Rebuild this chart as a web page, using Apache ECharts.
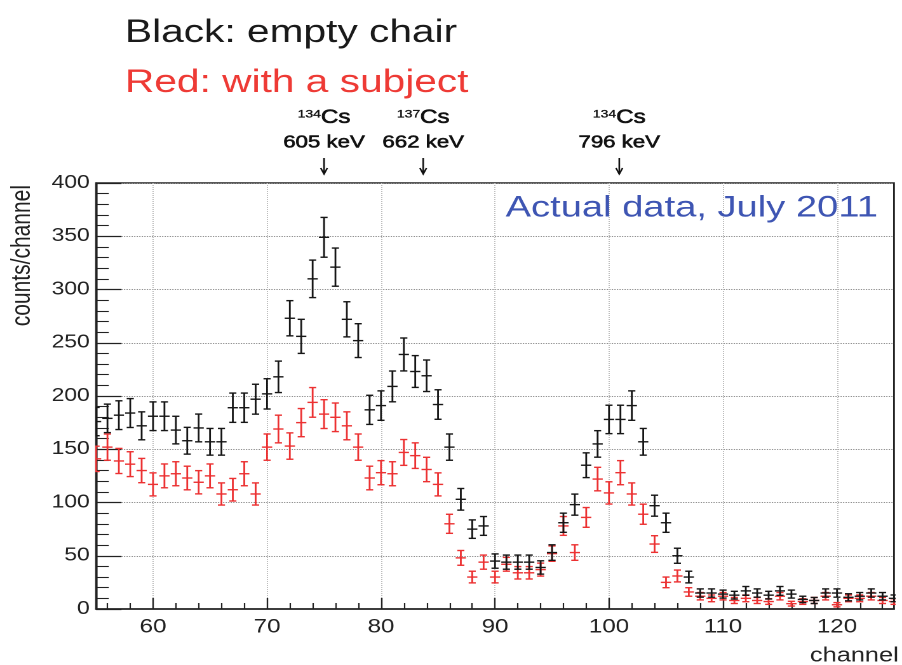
<!DOCTYPE html>
<html>
<head>
<meta charset="utf-8">
<script src="https://cdn.jsdelivr.net/npm/echarts@6/dist/echarts.min.js"></script>
<style>
  html, body { margin: 0; padding: 0; background: #ffffff; overflow: hidden; }
  #wrap { width: 902px; height: 665px; overflow: hidden; }
  /* the spectrum is laid out narrow and stretched horizontally */
  #chart { width: 710px; height: 665px; transform: scaleX(1.2704); transform-origin: 0 0; }
</style>
</head>
<body>
<div id="wrap"><div id="chart"></div></div>
<script>
// Detector channels shown on the spectrum
const channels = [
  55, 56, 57, 58, 59, 60, 61, 62, 63, 64, 65, 66, 67, 68, 69, 70, 71, 72, 73, 74,
  75, 76, 77, 78, 79, 80, 81, 82, 83, 84, 85, 86, 87, 88, 89, 90, 91, 92, 93, 94,
  95, 96, 97, 98, 99, 100, 101, 102, 103, 104, 105, 106, 107, 108, 109, 110, 111, 112, 113, 114,
  115, 116, 117, 118, 119, 120, 121, 122, 123, 124, 125
];

// Counts per channel, empty chair (black)
const emptyChair = [
  176, 179, 182, 184, 172, 181, 181, 168, 158, 170, 157, 157, 189, 189, 197, 202, 218, 273, 256, 310,
  349, 321, 272, 252, 187, 191, 209, 239, 223, 219, 192, 152, 103, 75, 78, 45, 44, 44, 44, 39,
  53, 81, 98, 135, 155, 178, 178, 191, 157, 97, 81, 50, 30, 15, 15, 14, 13, 17, 15, 13,
  17, 14, 9, 8, 15, 15, 11, 12, 15, 12, 10
];

// Counts per channel, with a subject seated (red)
const withSubject = [
  141, 152, 139, 136, 130, 117, 125, 127, 123, 119, 125, 108, 112, 127, 108, 152, 169, 153, 175, 194,
  183, 180, 172, 152, 123, 128, 127, 147, 144, 131, 117, 80, 48, 30, 44, 30, 42, 34, 34, 37,
  52, 78, 53, 86, 122, 109, 128, 108, 89, 61, 25, 31, 16, 12, 10, 12, 8, 10, 8, 7,
  12, 5, 7, 8, 12, 4, 10, 10, 12, 8, 7
];

// Axis ticks
const xMajorTicks = [60, 70, 80, 90, 100, 110, 120];
const xMinorTicks = [56, 58, 62, 64, 66, 68, 72, 74, 76, 78, 82, 84, 86, 88, 92, 94, 96, 98,
  102, 104, 106, 108, 112, 114, 116, 118, 122, 124];
const yTicks = [0, 50, 100, 150, 200, 250, 300, 350, 400];

// Gamma lines marked above the plot
const peakIsotopes = ['134', '137', '134'];
const peakEnergies = ['605 keV', '662 keV', '796 keV'];
const peakChannels = [75.0, 83.7, 100.9];

const FONT = '"Liberation Sans", Arial, Helvetica, sans-serif';
const BLACK = '#161616';
const RED = '#ec3132';

// Poisson error bars on each channel
function withErrors(values) {
  return channels.map((ch, i) => [ch, values[i], Math.sqrt(values[i])]);
}

function errorBars(color) {
  return function (params, api) {
    const x = api.value(0), y = api.value(1), e = api.value(2);
    const top = api.coord([x, y + e]);
    const bot = api.coord([x, y - e]);
    const left = api.coord([x - 0.45, y]);
    const right = api.coord([x + 0.45, y]);
    const cap = 2.8;
    const st = { stroke: color, lineWidth: 1.4 };
    return {
      type: 'group',
      children: [
        { type: 'line', shape: { x1: top[0], y1: top[1], x2: bot[0], y2: bot[1] }, style: st },
        { type: 'line', shape: { x1: top[0] - cap, y1: top[1], x2: top[0] + cap, y2: top[1] }, style: st },
        { type: 'line', shape: { x1: bot[0] - cap, y1: bot[1], x2: bot[0] + cap, y2: bot[1] }, style: st },
        { type: 'line', shape: { x1: left[0], y1: left[1], x2: right[0], y2: right[1] }, style: st }
      ]
    };
  };
}

const chart = echarts.init(document.getElementById('chart'), null, { renderer: 'canvas', devicePixelRatio: 2 });

chart.setOption({
  backgroundColor: '#ffffff',
  animation: false,
  grid: {
    left: 75.6, right: 6.3, top: 183, bottom: 56,
    show: true, borderColor: '#222', borderWidth: 1.4, backgroundColor: 'transparent'
  },
  xAxis: [
    {
      type: 'value', min: 55, max: 125, position: 'bottom',
      axisLine: { show: true, onZero: false, lineStyle: { color: '#222', width: 1.6 } },
      axisTick: { show: true, inside: true, length: 11, customValues: xMajorTicks, lineStyle: { color: '#222', width: 1.2 } },
      axisLabel: { show: true, customValues: xMajorTicks, margin: 9, color: '#222', fontSize: 19, fontFamily: FONT },
      splitLine: { show: true, customValues: xMajorTicks, lineStyle: { color: '#bdbdbd', type: 'dotted', width: 1 } },
      minorTick: { show: false }
    },
    {
      type: 'value', min: 55, max: 125, position: 'bottom', offset: 0,
      axisLine: { show: false },
      axisTick: { show: true, inside: true, length: 6, customValues: xMinorTicks, lineStyle: { color: '#222', width: 1.1 } },
      axisLabel: { show: false },
      splitLine: { show: false }
    }
  ],
  yAxis: {
    type: 'value', min: 0, max: 400, interval: 50,
    axisLine: { show: true, onZero: false, lineStyle: { color: '#222', width: 1.6 } },
    axisTick: { show: true, inside: true, length: 20, lineStyle: { color: '#222', width: 1.2 } },
    minorTick: { show: true, splitNumber: 5, length: 10, lineStyle: { color: '#222', width: 1.1 } },
    axisLabel: {
      margin: 5, color: '#222', fontSize: 18, fontFamily: FONT,
      formatter: v => (yTicks.indexOf(v) >= 0 ? String(v) : '')
    },
    splitLine: { show: true, lineStyle: { color: '#8f8f8f', type: 'dotted', width: 1 } }
  },
  series: [
    {
      name: 'Red: with a subject', type: 'custom', clip: true,
      xAxisIndex: 0, yAxisIndex: 0,
      renderItem: errorBars(RED),
      encode: { x: 0, y: 1 },
      data: withErrors(withSubject),
      z: 3
    },
    {
      name: 'Black: empty chair', type: 'custom', clip: true,
      xAxisIndex: 0, yAxisIndex: 0,
      renderItem: errorBars(BLACK),
      encode: { x: 0, y: 1 },
      data: withErrors(emptyChair),
      z: 4
    }
  ]
});

// Text and peak annotations placed through the axis scale
const graphics = [
  { type: 'text', x: 98.4, y: 33, style: { text: 'Black: empty chair', fill: '#1a1a1a', font: '32px ' + FONT, verticalAlign: 'middle', align: 'left' } },
  { type: 'text', x: 98.4, y: 83, style: { text: 'Red: with a subject', fill: '#ee3a35', font: '32px ' + FONT, verticalAlign: 'middle', align: 'left' } },
  { type: 'text', x: 691, y: 208, z: 10, style: { text: 'Actual data, July 2011', fill: '#3e55b3', font: '30px ' + FONT, verticalAlign: 'middle', align: 'right' } },
  { type: 'text', x: 707.5, y: 656, style: { text: 'channel', fill: '#222', font: '20px ' + FONT, verticalAlign: 'middle', align: 'right' } },
  { type: 'text', x: 17.5, y: 185, rotation: Math.PI / 2, style: { text: 'counts/channel', fill: '#222', font: '21px ' + FONT, verticalAlign: 'middle', align: 'right' } }
];

peakChannels.forEach((ch, i) => {
  const px = chart.convertToPixel({ xAxisIndex: 0 }, ch);
  graphics.push({
    type: 'text', x: px, y: 118,
    style: {
      text: '{s|' + peakIsotopes[i] + '}{c|Cs}',
      align: 'center', verticalAlign: 'middle',
      rich: {
        s: { fontSize: 11, fontFamily: FONT, fill: '#111', stroke: '#111', lineWidth: 0.3, verticalAlign: 'top', lineHeight: 18 },
        c: { fontSize: 19, fontFamily: FONT, fill: '#111', stroke: '#111', lineWidth: 0.6, lineHeight: 18 }
      }
    }
  });
  graphics.push({
    type: 'text', x: px, y: 142.5,
    style: { text: peakEnergies[i], fill: '#111', stroke: '#111', lineWidth: 0.6, font: '17.5px ' + FONT, align: 'center', verticalAlign: 'middle' }
  });
  graphics.push({
    type: 'line', shape: { x1: px, y1: 158, x2: px, y2: 174 },
    style: { stroke: '#111', lineWidth: 1.3 }
  });
  graphics.push({
    type: 'polyline', shape: { points: [[px - 2.6, 168], [px, 174], [px + 2.6, 168]] },
    style: { stroke: '#111', lineWidth: 1.3, fill: null }
  });
});

chart.setOption({ graphic: graphics });
</script>
</body>
</html>
